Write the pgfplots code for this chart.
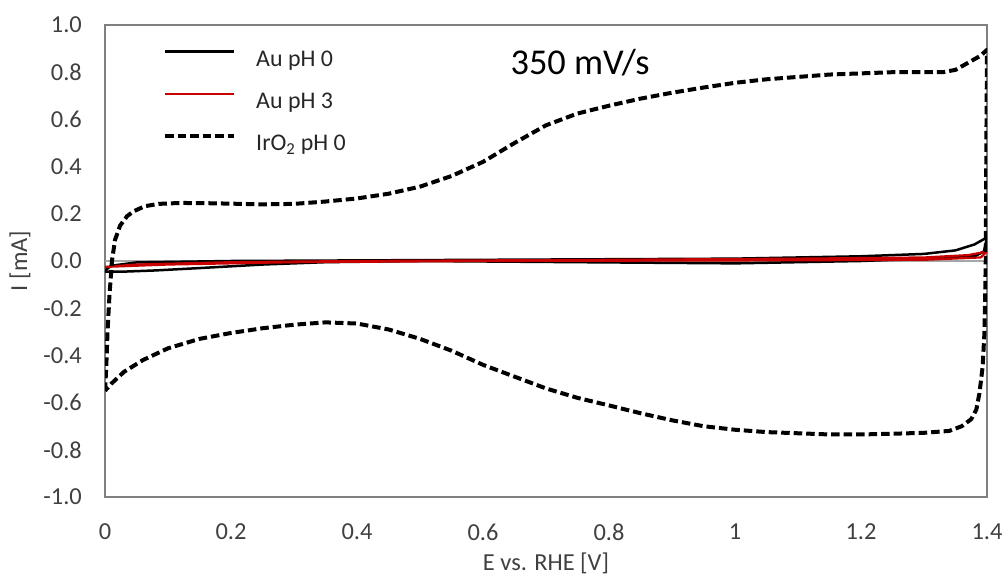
\documentclass[border=0pt]{standalone}
\usepackage{fontspec}
\setmainfont{Carlito}
\usepackage{pgfplots}
\pgfplotsset{compat=1.18}
\definecolor{txt}{RGB}{64,64,64}
\definecolor{frame}{RGB}{128,128,128}
\definecolor{zeroln}{RGB}{166,166,166}
\definecolor{aured}{RGB}{200,0,0}
\begin{document}
\begin{tikzpicture}
\path[use as bounding box] (0,0) rectangle (1005bp,581bp);
\begin{axis}[
  at={(105bp,84bp)}, anchor=south west,
  scale only axis, width=882bp, height=472bp,
  xmin=0, xmax=1.4, ymin=-1, ymax=1,
  xtick={0,0.2,0.4,0.6,0.8,1,1.2,1.4},
  ytick={-1,-0.8,-0.6,-0.4,-0.2,0,0.2,0.4,0.6,0.8,1},
  major tick length=0pt,
  axis line style={draw=frame, line width=1.2bp},
  /pgf/number format/assume math mode=true,
  tick label style={font=\fontsize{24.5}{29}\selectfont, text=txt, inner sep=0pt},
  xticklabel style={anchor=center, yshift=-35bp},
  yticklabel style={anchor=east, xshift=-23bp,
    /pgf/number format/fixed, /pgf/number format/fixed zerofill, /pgf/number format/precision=1},
  extra y ticks={0}, extra y tick labels={},
  extra y tick style={grid=major, major grid style={draw=zeroln, line width=1.2bp}},
  xlabel={E vs. RHE [V]}, ylabel={I [mA]},
  label style={font=\fontsize{24.5}{29}\selectfont, text=txt},
  xlabel style={at={(axis description cs:0.5,-0.1398)}, anchor=center},
  ylabel style={at={(axis description cs:-0.0964,0.5)}, anchor=center, rotate=0},
  legend style={draw=none, fill=none, at={(axis description cs:0.0658,0.947)}, anchor=north west,
    font=\fontsize{24}{29}\selectfont, text=black!85, inner sep=0pt, row sep=21bp, column sep=20bp,
    nodes={inner sep=0pt, text height=16bp, text depth=5bp}},
  legend cell align=left,
  legend image code/.code={\draw[#1] (0bp,9bp) -- (69bp,9bp);},
]
\addplot[black, line width=2.5bp, line join=round] coordinates {
(0,-0.04) (0.01,-0.02) (0.05,-0.006) (0.2,0.0) (0.6,0.005) (1.0,0.01) (1.2,0.02) (1.3,0.03) (1.35,0.045) (1.38,0.07) (1.4,0.10)
(1.395,0.04) (1.38,0.02) (1.3,0.01) (1.2,0.0) (1.0,-0.01) (0.8,-0.006) (0.5,0.0) (0.35,-0.005) (0.25,-0.015) (0.15,-0.03) (0.08,-0.04) (0.03,-0.045) (0,-0.045)
};
\addlegendentry{Au pH 0}
\addplot[aured, line width=2.2bp, line join=round] coordinates {
(0,-0.025) (0.05,-0.015) (0.2,-0.005) (0.4,0.0) (0.8,0.005) (1.1,0.01) (1.3,0.015) (1.37,0.025) (1.4,0.04)
(1.39,0.015) (1.3,0.005) (1.1,0.003) (0.6,0.0) (0.3,-0.005) (0.1,-0.015) (0,-0.025)
};
\addlegendentry{Au pH 3}
\addplot[black, line width=4bp, dash pattern=on 8.5bp off 4bp, line join=round] coordinates {
(0.000,-0.55) (0.002,-0.45) (0.004,-0.30) (0.007,-0.15) (0.011,0.00) (0.016,0.09) (0.024,0.15) (0.035,0.19) (0.045,0.21) (0.063,0.232) (0.085,0.242) (0.12,0.246) (0.16,0.245) (0.20,0.243) (0.25,0.240) (0.30,0.242) (0.35,0.252) (0.40,0.265) (0.45,0.285) (0.50,0.315) (0.55,0.36) (0.60,0.42) (0.65,0.50) (0.70,0.575) (0.75,0.625) (0.80,0.658) (0.85,0.688) (0.90,0.713) (0.95,0.735) (1.00,0.755) (1.05,0.77) (1.10,0.78) (1.15,0.79) (1.20,0.795) (1.25,0.80) (1.30,0.80) (1.33,0.80) (1.35,0.81) (1.37,0.84) (1.39,0.87) (1.40,0.895)
(1.399,0.5) (1.398,0.0) (1.396,-0.3) (1.393,-0.45) (1.388,-0.56) (1.383,-0.63) (1.375,-0.67) (1.36,-0.70) (1.34,-0.72) (1.30,-0.728) (1.25,-0.732) (1.20,-0.735) (1.15,-0.735) (1.10,-0.73) (1.05,-0.725) (1.00,-0.715) (0.95,-0.70) (0.90,-0.675) (0.85,-0.645) (0.80,-0.612) (0.75,-0.58) (0.70,-0.54) (0.65,-0.49) (0.60,-0.44) (0.55,-0.38) (0.50,-0.33) (0.45,-0.29) (0.40,-0.265) (0.35,-0.26) (0.30,-0.27) (0.25,-0.285) (0.20,-0.305) (0.15,-0.33) (0.10,-0.37) (0.06,-0.42) (0.03,-0.47) (0.01,-0.52) (0.0,-0.55)
};
\addlegendentry{IrO\textsubscript{2} pH 0}
\node at (axis cs:0.754,0.84) {\fontsize{36.5}{42}\selectfont 350 mV/s};
\end{axis}
\end{tikzpicture}
\end{document}
